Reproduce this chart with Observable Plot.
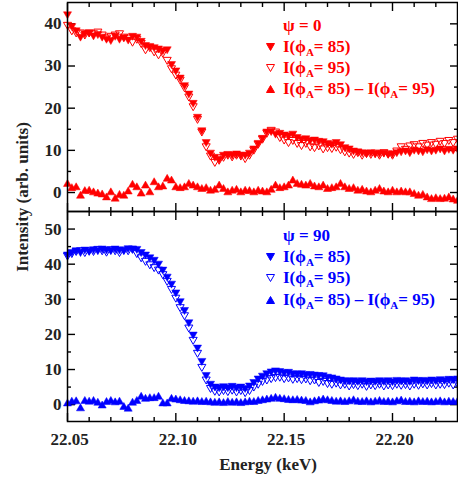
<!DOCTYPE html>
<html>
<head>
<meta charset="utf-8">
<script src="https://cdn.jsdelivr.net/npm/d3@7"></script>
<script src="https://cdn.jsdelivr.net/npm/@observablehq/plot@0.6"></script>
<style>
  body { margin: 0; background: #fff; }
  #wrap { position: relative; width: 458px; height: 480px; overflow: hidden;
          font-family: "Liberation Serif", "Times New Roman", serif; font-weight: bold; }
  .panel { position: absolute; left: 0; }
  .lrow { position: absolute; font-size: 17px; line-height: 21px; height: 21px; white-space: nowrap; }
  .lrow svg { position: absolute; left: -17px; top: 7px; }
  .lrow sub { font-size: 11px; vertical-align: -4px; line-height: 0; }
  #ylab { position: absolute; left: 23px; top: 197px; font-size: 17px; white-space: nowrap;
          transform: translate(-50%, -50%) rotate(-90deg); color: #222; }
  #xlab { position: absolute; left: 168px; width: 200px; top: 455px; text-align: center; font-size: 17px; color: #222; }
</style>
</head>
<body>
<div id="wrap"></div>
<script>
// ---- data ----
const energy = [
  22.050,22.052,22.054,22.056,22.058,22.060,22.062,22.064,22.066,22.068,
  22.070,22.072,22.074,22.076,22.078,22.080,22.082,22.084,22.086,22.088,
  22.090,22.092,22.094,22.096,22.098,22.100,22.102,22.104,22.106,22.108,
  22.110,22.112,22.114,22.116,22.118,22.120,22.122,22.124,22.126,22.128,
  22.130,22.132,22.134,22.136,22.138,22.140,22.142,22.144,22.146,22.148,
  22.150,22.152,22.154,22.156,22.158,22.160,22.162,22.164,22.166,22.168,
  22.170,22.172,22.174,22.176,22.178,22.180,22.182,22.184,22.186,22.188,
  22.190,22.192,22.194,22.196,22.198,22.200,22.202,22.204,22.206,22.208,
  22.210,22.212,22.214,22.216,22.218,22.220,22.222,22.224,22.226,22.228,
  22.230];

// psi = 0 panel
const topI85 = [
  42.3,39.5,38.5,37.0,37.8,38.0,37.3,37.6,37.0,36.5,
  36.2,37.2,36.5,36.8,36.3,37.2,37.0,36.0,35.0,34.8,
  34.5,34.2,33.8,34.0,30.5,29.0,27.3,25.5,23.5,21.3,
  18.0,14.8,12.0,9.5,8.5,8.0,9.0,9.2,9.0,9.3,
  9.0,9.0,9.5,10.5,11.8,13.0,14.5,14.6,14.0,14.2,
  13.8,13.6,14.0,13.2,12.8,12.9,12.5,12.6,12.3,12.2,
  11.8,11.6,12.0,11.5,10.8,10.5,10.0,9.8,9.6,9.4,
  9.6,9.3,9.4,9.5,9.2,9.3,9.6,9.8,10.0,9.6,
  10.2,10.0,9.8,10.3,10.0,10.2,10.5,10.0,10.4,10.2,
  10.5];
const topI95 = [
  39.8,38.5,38.0,38.0,37.5,38.0,37.8,38.2,37.5,36.8,
  37.2,37.5,37.8,37.0,36.8,35.8,36.5,35.5,34.0,34.5,
  33.5,32.8,33.2,31.5,29.5,28.0,26.8,25.0,22.8,20.5,
  17.5,14.5,11.0,8.8,7.3,7.8,8.5,9.0,8.6,9.0,
  8.8,8.2,9.0,10.2,11.6,12.8,14.2,14.9,14.5,13.2,
  12.6,12.0,12.5,11.8,11.3,11.8,11.0,10.8,11.2,10.5,
  10.8,10.6,10.9,10.3,9.8,9.5,9.2,9.6,9.0,9.4,
  9.2,9.5,9.0,9.6,9.3,9.0,10.0,11.0,10.4,11.2,
  11.5,11.0,11.8,11.4,12.0,11.6,12.3,11.8,12.5,12.0,
  12.8];
const topDiff = [
  2.0,1.0,1.2,-0.8,0.3,0.4,0.0,-0.3,-0.5,-1.2,
  0.0,-1.5,-0.6,-0.8,0.2,1.8,1.2,-0.3,1.6,0.0,
  2.4,1.2,1.4,3.2,2.8,1.2,1.0,1.2,2.0,1.6,
  1.2,0.8,1.0,0.4,0.6,1.6,0.8,0.0,0.4,0.6,
  0.0,0.4,0.3,0.0,0.4,0.2,0.0,0.6,1.6,1.0,
  1.2,1.6,2.8,2.0,1.8,1.6,2.0,1.4,1.2,1.6,
  0.8,1.0,1.2,2.0,1.2,0.8,1.0,0.4,0.6,0.2,
  0.0,0.4,0.8,0.2,0.0,0.4,0.0,0.2,0.0,0.0,
  -0.4,-0.8,-0.6,-1.2,-1.6,-1.4,-1.6,-1.5,-1.2,-1.7,
  -2.0];

// psi = 90 panel
const botI85 = [
  42.8,43.5,44.0,43.5,44.2,43.8,44.3,44.0,44.5,44.2,
  44.0,44.5,44.2,44.0,44.6,44.5,44.4,43.5,42.8,42.0,
  41.3,40.2,38.5,36.5,34.5,32.0,29.5,27.0,23.5,20.0,
  16.3,12.5,8.5,6.0,5.2,5.0,5.3,5.0,5.4,5.0,
  5.2,4.8,5.5,6.5,7.5,8.3,9.0,9.5,9.8,9.6,
  9.3,9.4,9.0,8.9,9.0,8.7,8.8,8.6,8.5,8.4,
  8.0,7.8,7.5,7.2,7.0,6.9,7.0,6.8,7.0,6.7,
  6.9,6.8,7.0,6.8,7.0,6.7,7.1,6.9,7.0,6.8,
  7.2,7.0,7.1,6.9,7.2,7.0,7.3,7.1,7.4,7.3,
  7.5];
const botI95 = [
  42.5,43.2,43.8,44.0,43.5,44.0,43.8,44.4,44.0,43.6,
  44.3,44.0,43.5,44.2,44.0,44.4,43.2,42.0,41.0,40.0,
  39.2,38.5,37.2,35.3,33.0,30.5,27.8,25.5,22.0,18.5,
  14.8,10.8,7.2,4.8,4.0,3.8,4.2,3.9,4.3,3.8,
  4.2,3.6,4.2,5.2,6.0,6.8,7.2,7.6,7.9,8.0,
  7.6,7.8,7.4,7.6,7.3,7.5,7.0,7.2,6.5,6.8,
  6.2,6.0,6.3,5.8,6.0,5.5,5.9,5.6,6.0,5.4,
  5.8,5.6,6.0,5.5,5.8,5.6,6.0,5.7,5.9,5.5,
  6.0,5.7,6.1,5.8,6.2,5.8,6.0,5.9,6.3,5.8,
  6.2];
const botDiff = [
  0.3,0.8,0.9,-1.1,1.0,0.8,1.0,0.5,-0.3,0.7,
  1.0,0.6,0.8,-0.7,-1.2,0.5,1.0,2.2,1.6,1.8,
  1.8,2.2,0.3,0.3,1.6,1.4,1.2,1.0,0.9,0.8,
  0.9,0.7,0.8,0.6,0.5,0.6,0.4,0.7,0.5,0.6,
  0.4,0.6,0.8,0.7,1.0,1.2,1.4,1.6,1.9,1.6,
  1.5,1.3,1.2,1.3,1.1,1.0,0.6,0.9,1.1,1.4,
  1.2,1.0,0.8,0.9,0.7,0.9,1.2,0.8,0.7,0.9,
  0.6,0.8,1.0,0.7,0.8,0.6,0.9,1.1,0.7,0.8,
  0.6,0.9,0.7,0.8,0.6,0.7,0.9,0.6,0.8,0.7,
  0.8];

const xMajor = [22.05, 22.10, 22.15, 22.20];
const xMinor = [22.06,22.07,22.08,22.09,22.11,22.12,22.13,22.14,22.16,22.17,22.18,22.19,22.21,22.22];
const yTopMajor = [0, 10, 20, 30, 40];
const yTopMinor = [5, 15, 25, 35];
const yBotMajor = [0, 10, 20, 30, 40, 50];
const yBotMinor = [5, 15, 25, 35, 45];
const legendLabels = ["I(ϕ<sub>A</sub>= 85)", "I(ϕ<sub>A</sub>= 95)", "I(ϕ<sub>A</sub>= 85) – I(ϕ<sub>A</sub>= 95)"];

const RED = "#ff0000", BLUE = "#0000ff";

function rows(a85, a95, ad) {
  return energy.map((e, i) => ({E: e, i85: a85[i], i95: a95[i], d: ad[i]}));
}

function panel({data, color, yDomain, yMajor, yMinor, height, marginTop, marginBottom, showX}) {
  const MJ = 8, MN = 4, SW = 1.4;
  const marks = [
    Plot.axisY(yMajor, {anchor: "left", tickSize: MJ, dx: MJ, fill: "none", label: null, strokeWidth: SW}),
    Plot.axisY(yMinor, {anchor: "left", tickSize: MN, dx: MN, fill: "none", label: null, strokeWidth: SW}),
    Plot.axisY(yMajor, {anchor: "right", tickSize: MJ, dx: -MJ, fill: "none", label: null, strokeWidth: SW}),
    Plot.axisY(yMinor, {anchor: "right", tickSize: MN, dx: -MN, fill: "none", label: null, strokeWidth: SW}),
    Plot.axisX(xMajor, {anchor: "bottom", tickSize: MJ, dy: -MJ, fill: "none", label: null, strokeWidth: SW}),
    Plot.axisX(xMinor, {anchor: "bottom", tickSize: MN, dy: -MN, fill: "none", label: null, strokeWidth: SW}),
    Plot.axisX(xMajor, {anchor: "top", tickSize: MJ, dy: MJ, fill: "none", label: null, strokeWidth: SW}),
    Plot.axisX(xMinor, {anchor: "top", tickSize: MN, dy: MN, fill: "none", label: null, strokeWidth: SW}),
    Plot.axisY(yMajor, {anchor: "left", tickSize: 0, tickPadding: 6, label: null, fill: "#222"}),
    Plot.dot(data, {x: "E", y: "i85", symbol: "triangle", rotate: 180, r: 3, fill: color, stroke: color, strokeWidth: 0.5}),
    Plot.dot(data, {x: "E", y: "i95", symbol: "triangle", rotate: 180, r: 3, fill: "none", stroke: color, strokeWidth: 1}),
    Plot.dot(data, {x: "E", y: "d", symbol: "triangle", r: 3, fill: color, stroke: color, strokeWidth: 0.5}),
    Plot.frame({stroke: "black", strokeWidth: 1.5})
  ];
  if (showX) {
    marks.push(Plot.axisX(xMajor, {anchor: "bottom", tickSize: 0, tickPadding: 11, dx: 2, label: null,
      fill: "#222", tickFormat: d => d.toFixed(2)}));
  }
  return Plot.plot({
    width: 458, height, marginLeft: 67, marginRight: 1, marginTop, marginBottom,
    x: {domain: [22.05, 22.23]},
    y: {domain: yDomain},
    style: {fontFamily: "'Liberation Serif', 'Times New Roman', serif", fontSize: "17px",
            fontWeight: "bold", background: "transparent", overflow: "visible"},
    marks
  });
}

const wrap = document.getElementById("wrap");

const topPlot = panel({data: rows(topI85, topI95, topDiff), color: RED, yDomain: [-4.5, 45.06],
  yMajor: yTopMajor, yMinor: yTopMinor, height: 213, marginTop: 2, marginBottom: 2, showX: false});
topPlot.classList.add("panel"); topPlot.style.top = "0px";
wrap.appendChild(topPlot);

const botPlot = panel({data: rows(botI85, botI95, botDiff), color: BLUE, yDomain: [-4.8, 55],
  yMajor: yBotMajor, yMinor: yBotMinor, height: 271, marginTop: 2, marginBottom: 59, showX: true});
botPlot.classList.add("panel"); botPlot.style.top = "209px";
wrap.appendChild(botPlot);

function marker(kind, color) {
  const pts = kind === "up" ? "0.5,7.5 8.5,7.5 4.5,0.5" : "0.5,0.5 8.5,0.5 4.5,7.5";
  const fill = kind === "open" ? "none" : color;
  return `<svg width="9" height="8"><polygon points="${pts}" fill="${fill}" stroke="${color}" stroke-width="1"/></svg>`;
}

function legend(color, title, centers) {
  const kinds = ["down", "open", "up"];
  const t = document.createElement("div");
  t.className = "lrow"; t.style.left = "283px"; t.style.top = (centers[0] - 10.5) + "px"; t.style.color = color;
  t.innerHTML = title;
  wrap.appendChild(t);
  legendLabels.forEach((lab, k) => {
    const r = document.createElement("div");
    r.className = "lrow"; r.style.left = "283px"; r.style.top = (centers[k + 1] - 10.5) + "px"; r.style.color = color;
    r.innerHTML = marker(kinds[k], color) + lab;
    wrap.appendChild(r);
  });
}
legend(RED, "ψ = 0", [25, 46, 67, 88]);
legend(BLUE, "ψ = 90", [235, 256.5, 277.5, 299]);

const yl = document.createElement("div"); yl.id = "ylab"; yl.textContent = "Intensity (arb. units)"; wrap.appendChild(yl);
const xl = document.createElement("div"); xl.id = "xlab"; xl.textContent = "Energy (keV)"; wrap.appendChild(xl);
</script>
</body>
</html>
